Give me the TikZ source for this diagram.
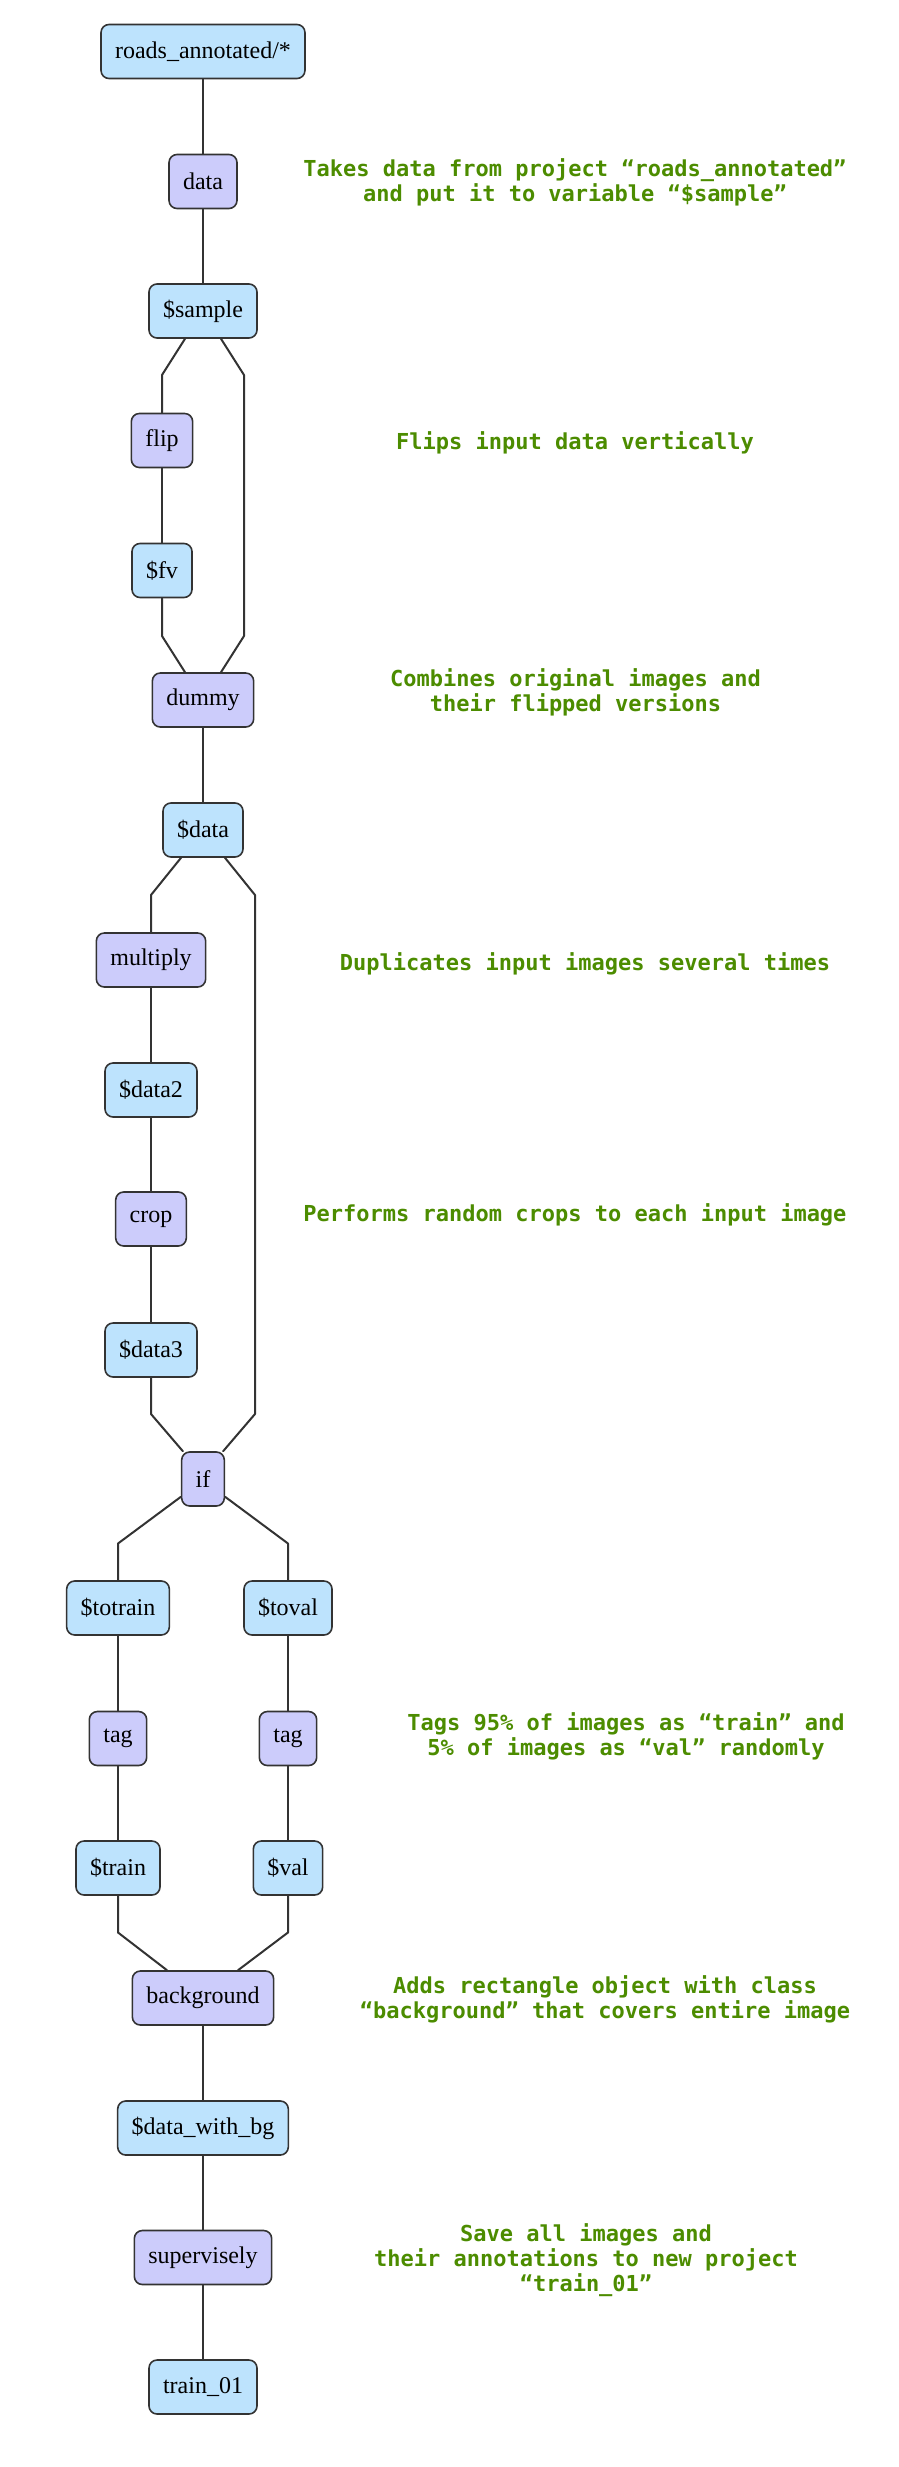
\documentclass[tikz,border=0pt]{standalone}
\usepackage{fontspec}
\setmainfont{Liberation Serif}
\newfontfamily\notefont{DejaVu Sans Mono}
\usepackage{xcolor}
\usepackage{tikz}
\definecolor{varblue}{HTML}{BDE3FD}
\definecolor{laylilac}{HTML}{CCCCFB}
\definecolor{notegreen}{HTML}{4C8C00}
\definecolor{edgegray}{HTML}{333333}

\begin{document}
\begin{tikzpicture}[x=0.5pt, y=-0.5pt, line cap=round, line join=round,
  box/.style={draw=edgegray, line width=0.8pt, rounded corners=4pt, minimum height=27pt, inner xsep=7pt, font=\fontsize{12}{14}\selectfont},
  var/.style={box, fill=varblue},
  layer/.style={box, fill=laylilac},
  note/.style={text=notegreen, align=center, font=\notefont\bfseries\fontsize{11}{12.5}\selectfont},
  link/.style={draw=edgegray, line width=1pt}]
  \useasboundingbox (0,0) rectangle (899,2467);
  % graph
  \node[var] (roads) at (203,51.5) {roads\_annotated/*};
  \node[layer] (data) at (203,181.5) {data};
  \node[var] (sample) at (203,311) {\$sample};
  \node[layer] (flip) at (162,440.5) {flip};
  \node[var] (fv) at (162,570.5) {\$fv};
  \node[layer] (dummy) at (203,700) {dummy};
  \node[var] (alldata) at (203,830) {\$data};
  \node[layer] (multiply) at (151,960) {multiply};
  \node[var] (data2) at (151,1090) {\$data2};
  \node[layer] (crop) at (151,1219) {crop};
  \node[var] (data3) at (151,1350) {\$data3};
  \node[layer] (cond) at (203,1479) {if};
  \node[var] (totrain) at (118,1608) {\$totrain};
  \node[var] (toval) at (288,1608) {\$toval};
  \node[layer] (tagtrain) at (118,1738.5) {tag};
  \node[layer] (tagval) at (288,1738.5) {tag};
  \node[var] (train) at (118,1868) {\$train};
  \node[var] (val) at (288,1868) {\$val};
  \node[layer] (bg) at (203,1998) {background};
  \node[var] (withbg) at (203,2128) {\$data\_with\_bg};
  \node[layer] (sly) at (203,2257.5) {supervisely};
  \node[var] (out) at (203,2387) {train\_01};
  % edges
  \draw[link] (roads) -- (data);
  \draw[link] (data) -- (sample);
  \draw[link] ([xshift=-9pt]sample.south) -- (162,375) -- (flip);
  \draw[link] (flip) -- (fv);
  \draw[link] (fv) -- (162,636) -- ([xshift=-9pt]dummy.north);
  \draw[link] ([xshift=9pt]sample.south) -- (244,375) -- (244,636) -- ([xshift=9pt]dummy.north);
  \draw[link] (dummy) -- (alldata);
  \draw[link] ([xshift=-11pt]alldata.south) -- (151,895) -- (multiply);
  \draw[link] ([xshift=11pt]alldata.south) -- (255,895) -- (255,1414) -- ([xshift=-1pt]cond.north east);
  \draw[link] (multiply) -- (data2);
  \draw[link] (data2) -- (crop);
  \draw[link] (crop) -- (data3);
  \draw[link] (data3) -- (151,1414) -- ([xshift=1pt]cond.north west);
  \draw[link] ([yshift=5pt]cond.south west) -- (118,1543.5) -- (totrain);
  \draw[link] ([yshift=5pt]cond.south east) -- (288,1543.5) -- (toval);
  \draw[link] (totrain) -- (tagtrain);
  \draw[link] (tagtrain) -- (train);
  \draw[link] (toval) -- (tagval);
  \draw[link] (tagval) -- (val);
  \draw[link] (train) -- (118,1932.5) -- ([xshift=-18pt]bg.north);
  \draw[link] (val) -- (288,1932.5) -- ([xshift=17.5pt]bg.north);
  \draw[link] (bg) -- (withbg);
  \draw[link] (withbg) -- (sly);
  \draw[link] (sly) -- (out);
  % notes
  \node[note] (n1) at (575,182.5) {Takes data from project “roads\_annotated”\\and put it to variable “\$sample”};
  \node[note] (n2) at (575,443) {Flips input data vertically};
  \node[note] (n3) at (575.5,692) {Combines original images and\\their flipped versions};
  \node[note] (n4) at (585,964) {Duplicates input images several times};
  \node[note] (n5) at (575,1215) {Performs random crops to each input image};
  \node[note] (n6) at (626,1736) {Tags 95\% of images as “train” and\\5\% of images as “val” randomly};
  \node[note] (n7) at (605,1999.5) {Adds rectangle object with class\\“background” that covers entire image};
  \node[note] (n8) at (586,2260) {Save all images and\\their annotations to new project\\“train\_01”};
\end{tikzpicture}
\end{document}
